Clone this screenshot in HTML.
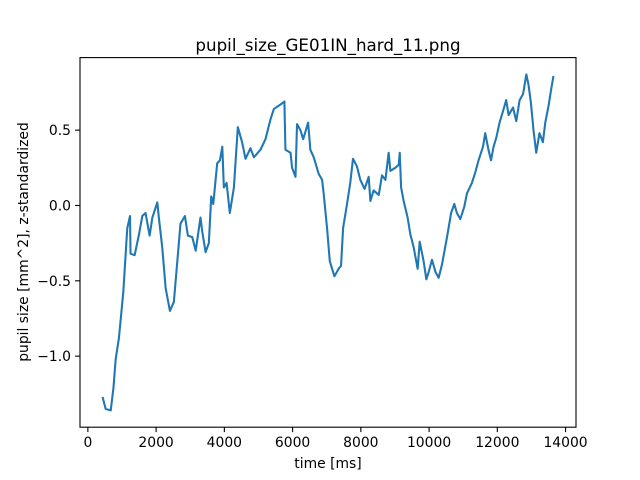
<!DOCTYPE html>
<html><head><meta charset="utf-8"><style>
body{margin:0;background:#fff}
svg{display:block;font-family:"DejaVu Sans","Liberation Sans",sans-serif}
</style></head><body>
<svg id="chart" width="640" height="480" viewBox="0 0 640 480">
<rect width="640" height="480" fill="#fff"/>
<text x="328" y="51" font-size="16.7" text-anchor="middle">pupil_size_GE01IN_hard_11.png</text>
<g id="plot"></g>
<g id="axes"></g>
<text x="328" y="468" font-size="13.9" text-anchor="middle">time [ms]</text>
<text transform="translate(28,242) rotate(-90)" font-size="13.9" text-anchor="middle">pupil size [mm^2], z-standardized</text>
</svg>
<script>
const times=[430,520,670,750,815,910,1040,1105,1155,1235,1250,1370,1500,1595,1690,1810,1890,2035,2080,2180,2280,2405,2520,2715,2845,2930,3060,3160,3300,3350,3450,3545,3615,3675,3790,3870,3940,3985,4065,4160,4280,4325,4395,4520,4620,4765,4865,5060,5205,5350,5450,5645,5760,5790,5940,5985,6085,6130,6230,6310,6455,6520,6620,6765,6865,6910,7010,7090,7225,7350,7420,7480,7595,7690,7770,7885,7985,8110,8230,8280,8375,8525,8620,8720,8815,8865,9010,9110,9140,9180,9255,9370,9450,9550,9665,9725,9840,9920,9990,10085,10185,10280,10380,10525,10645,10740,10815,10915,11030,11110,11255,11355,11450,11580,11645,11740,11815,11890,11970,12065,12185,12260,12330,12460,12555,12655,12755,12850,12915,12985,13060,13140,13235,13335,13405,13500,13570,13645];
const values=[-1.27,-1.35,-1.36,-1.21,-1.02,-0.88,-0.57,-0.33,-0.15,-0.07,-0.32,-0.33,-0.19,-0.07,-0.05,-0.20,-0.08,0.02,-0.08,-0.28,-0.55,-0.70,-0.64,-0.12,-0.07,-0.20,-0.21,-0.30,-0.08,-0.17,-0.31,-0.25,0.06,0.01,0.28,0.30,0.39,0.12,0.15,-0.05,0.12,0.28,0.52,0.42,0.31,0.38,0.32,0.37,0.44,0.57,0.64,0.67,0.69,0.37,0.35,0.25,0.19,0.54,0.50,0.44,0.55,0.37,0.32,0.21,0.17,0.08,-0.15,-0.37,-0.47,-0.42,-0.40,-0.15,0.01,0.15,0.31,0.26,0.17,0.11,0.19,0.03,0.10,0.07,0.20,0.17,0.35,0.23,0.25,0.27,0.35,0.12,0.03,-0.08,-0.19,-0.28,-0.42,-0.24,-0.37,-0.49,-0.44,-0.36,-0.44,-0.48,-0.39,-0.21,-0.05,0.01,-0.05,-0.09,-0.01,0.08,0.15,0.22,0.30,0.39,0.48,0.37,0.30,0.39,0.45,0.55,0.64,0.70,0.60,0.65,0.56,0.70,0.74,0.87,0.80,0.68,0.50,0.35,0.48,0.42,0.55,0.66,0.76,0.86];
const xTicks=[0,2000,4000,6000,8000,10000,12000,14000];
const yTicks=[-1.0,-0.5,0.0,0.5];
const yTickLabels=["\u22121.0","\u22120.5","0.0","0.5"];

const L=80,R=576,T=57.6,B=427.2;
const tMin=Math.min(...times),tMax=Math.max(...times),vMin=Math.min(...values),vMax=Math.max(...values);
const xm=(tMax-tMin)*0.05,ym=(vMax-vMin)*0.05;
const x0=tMin-xm,x1=tMax+xm,y0=vMin-ym,y1=vMax+ym;
const xs=t=>L+(t-x0)/(x1-x0)*(R-L);
const ys=v=>B-(v-y0)/(y1-y0)*(B-T);
const NS="http://www.w3.org/2000/svg";
const plot=document.getElementById('plot'),axes=document.getElementById('axes');
const line=document.createElementNS(NS,'polyline');


line.setAttribute('points',times.map((t,i)=>xs(t).toFixed(2)+','+ys(values[i]).toFixed(2)).join(' '));
line.setAttribute('fill','none');line.setAttribute('stroke','#1f77b4');line.setAttribute('stroke-width','2.08');line.setAttribute('stroke-linejoin','round');
plot.appendChild(line);
const frame=document.createElementNS(NS,'rect');


frame.setAttribute('x',L);frame.setAttribute('y',T);frame.setAttribute('width',R-L);frame.setAttribute('height',B-T);
frame.setAttribute('fill','none');frame.setAttribute('stroke','#000');frame.setAttribute('stroke-width','1.1');
axes.appendChild(frame);
xTicks.forEach(v=>{const x=xs(v);
 const tk=document.createElementNS(NS,'line');
 
 
 tk.setAttribute('x1',x);tk.setAttribute('x2',x);tk.setAttribute('y1',B);tk.setAttribute('y2',B+4.9);tk.setAttribute('stroke','#000');tk.setAttribute('stroke-width','1.1');axes.appendChild(tk);
 const tx=document.createElementNS(NS,'text');
 
 
 tx.setAttribute('x',x);tx.setAttribute('y',B+20);tx.setAttribute('font-size','13.9');tx.setAttribute('text-anchor','middle');tx.textContent=String(v);axes.appendChild(tx);});
yTicks.forEach((v,i)=>{const y=ys(v);
 const tk=document.createElementNS(NS,'line');
 
 
 tk.setAttribute('x1',L-4.9);tk.setAttribute('x2',L);tk.setAttribute('y1',y);tk.setAttribute('y2',y);tk.setAttribute('stroke','#000');tk.setAttribute('stroke-width','1.1');axes.appendChild(tk);
 const tx=document.createElementNS(NS,'text');
 
 
 tx.setAttribute('x',L-9);tx.setAttribute('y',y+5);tx.setAttribute('font-size','13.9');tx.setAttribute('text-anchor','end');tx.textContent=yTickLabels[i];axes.appendChild(tx);});
</script>
</body></html>
